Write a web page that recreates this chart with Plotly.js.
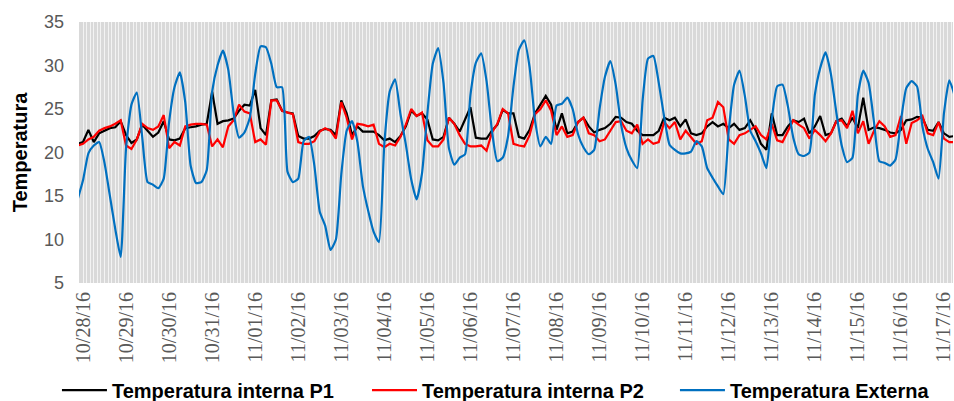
<!DOCTYPE html>
<html>
<head>
<meta charset="utf-8">
<script src="https://cdn.plot.ly/plotly-3.0.1.min.js"></script>
<style>
html,body{margin:0;padding:0;background:#fff;}
#chart{width:954px;height:401px;}
</style>
</head>
<body>
<div id="chart"></div>
<script>
// Readings every 3 hours, first reading 2016-10-27 21:00
const startTime = Date.UTC(2016, 9, 27, 21, 0, 0);
const stepHours = 3;

const seriesNames = ["Temperatura interna P1", "Temperatura interna P2", "Temperatura Externa"];

const tempP1 = [
  21.0, 21.2, 22.6, 21.2, 22.2, 22.5, 22.8, 22.9, 23.6,
  22.0, 21.1, 21.5, 23.2, 22.5, 21.8, 22.3, 23.6,
  21.5, 21.4, 21.6, 22.8, 22.9, 23.0, 23.2, 23.3,
  27.0, 23.3, 23.6, 23.7, 23.9, 24.8, 25.5, 25.4, 27.2,
  22.8, 22.0, 26.0, 26.1, 24.8, 24.6, 24.5, 21.9,
  21.6, 21.6, 21.9, 22.5, 22.7, 22.6, 22.0, 26.0,
  24.5, 22.0, 23.0, 22.4, 22.4, 22.4, 22.0, 21.4,
  21.6, 21.2, 21.9, 23.0, 24.8, 24.2, 24.5,
  23.8, 21.5, 21.4, 21.8, 24.0, 23.3, 22.4, 23.8,
  25.2, 21.7, 21.6, 21.6, 22.5, 23.2, 24.9, 24.5,
  24.5, 21.8, 21.6, 22.6, 24.5, 25.5, 26.5, 25.5,
  22.6, 24.5, 22.2, 22.4, 23.5, 24.0, 23.0, 22.3, 22.6,
  22.8, 23.3, 24.1, 24.0, 23.5, 23.3, 22.5, 22.0,
  22.0, 22.0, 22.5, 24.0, 23.7, 24.0, 23.0, 23.8,
  22.2, 22.0, 22.2, 23.0, 23.5, 23.0, 23.3, 22.8,
  23.3, 22.6, 22.8, 23.7, 22.6, 21.0, 20.3,
  24.5, 22.0, 22.0, 23.0, 23.7, 23.5, 23.9, 22.2,
  23.0, 24.2, 22.0, 22.2, 23.6, 23.9, 23.0, 24.0,
  22.8, 26.3, 22.6, 22.9, 22.8, 22.6, 22.3, 22.2,
  22.6, 23.7, 23.8, 24.1, 24.0, 22.6, 22.5, 23.5, 22.2, 21.8, 21.9
];

const tempP2 = [
  20.8, 21.0, 21.5, 21.8, 22.5, 22.8, 23.0, 23.3, 23.7,
  20.8, 20.4, 21.5, 23.3, 22.8, 22.6, 23.0, 24.3,
  20.5, 21.2, 20.8, 23.0, 23.2, 23.3, 23.3, 23.2,
  20.7, 21.5, 20.6, 23.0, 23.7, 25.5, 24.7, 24.5, 21.2,
  21.5, 20.9, 26.0, 26.0, 24.8, 24.6, 24.4, 21.2,
  21.0, 21.0, 21.3, 22.4, 22.8, 22.5, 21.6, 25.8,
  24.0, 21.5, 23.3, 23.2, 23.0, 23.2, 21.0, 20.6,
  21.0, 20.8, 21.8, 23.2, 25.0, 24.2, 24.6,
  21.4, 20.7, 20.7, 21.5, 24.0, 23.3, 22.0, 21.0,
  20.7, 20.7, 20.8, 20.2, 22.3, 23.3, 25.0, 24.5,
  21.0, 20.8, 20.7, 22.0, 24.4, 25.0, 26.0, 24.8,
  22.0, 23.0, 21.8, 22.0, 23.5, 24.0, 22.2, 22.0, 21.3,
  21.5, 22.5, 23.5, 23.6, 22.5, 22.2, 23.2, 21.0,
  21.5, 21.0, 21.2, 23.5, 22.8, 23.5, 21.5, 22.5,
  21.8, 21.0, 21.3, 23.7, 24.0, 25.8, 25.2, 21.5,
  21.0, 22.0, 22.2, 22.6, 23.0, 22.0, 21.5,
  23.3, 21.4, 21.2, 22.5, 23.7, 23.2, 22.8, 21.6,
  22.6, 22.0, 21.3, 22.2, 23.6, 23.7, 22.8, 24.8,
  22.2, 23.6, 21.0, 22.5, 23.6, 23.0, 21.8, 22.0,
  24.2, 21.0, 23.4, 23.7, 24.2, 22.2, 22.0, 23.5, 21.6, 21.2, 21.2
];

const tempExt = [
  14.6, 16.8, 19.9, 20.8, 21.2, 18.8, 15.0, 11.2, 8.0,
  20.5, 25.5, 26.9, 21.8, 16.6, 16.3, 15.9, 17.0,
  23.5, 27.5, 29.2, 25.8, 18.5, 16.5, 16.6, 18.0,
  27.0, 30.0, 31.7, 29.5, 24.5, 21.7, 22.3, 24.0, 29.0,
  32.2, 32.1, 30.2, 27.5, 27.5, 17.8, 16.6, 17.0,
  21.3, 21.8, 18.5, 13.2, 11.6, 8.8, 10.0, 17.5,
  22.5, 23.6, 21.2, 16.2, 13.3, 10.9, 9.7, 21.0,
  27.0, 28.4, 24.4, 20.9, 16.9, 14.6, 17.6,
  24.5, 30.2, 32.0, 28.0, 20.5, 18.6, 19.4, 19.8,
  26.6, 30.3, 31.4, 28.2, 22.5, 19.0, 19.4, 21.9,
  27.6, 31.8, 32.9, 29.8, 23.7, 20.7, 21.8, 21.0,
  25.4, 25.6, 26.3, 25.0, 22.1, 20.6, 19.8, 20.3, 25.0,
  28.7, 30.5, 27.8, 23.2, 20.5, 19.1, 18.2, 26.0,
  30.8, 31.1, 28.0, 24.1, 20.9, 20.3, 19.9, 19.9,
  20.1, 21.3, 20.7, 18.2, 17.1, 16.1, 15.2, 22.5,
  27.8, 29.4, 26.5, 22.5, 21.3, 19.9, 18.2,
  23.8, 27.6, 27.8, 25.3, 21.7, 19.8, 19.6, 20.0,
  26.6, 29.7, 31.5, 29.0, 24.6, 20.8, 18.9, 19.4,
  26.6, 29.4, 28.0, 23.5, 19.0, 18.8, 18.5, 19.2,
  23.6, 27.4, 28.2, 27.6, 23.0, 20.4, 18.9, 17.0, 24.5, 28.3, 26.5
];

const seriesColors = ["#000000", "#ff0000", "#0070c0"];
const legendIds = ["legend", "legend2", "legend3"];
const legendX = [0.0597, 0.3847, 0.7075];

function pad(n){ return (n < 10 ? "0" : "") + n; }
const times = tempExt.map(function(_, i){
  const d = new Date(startTime + i * stepHours * 3600000);
  return d.getUTCFullYear() + "-" + pad(d.getUTCMonth()+1) + "-" + pad(d.getUTCDate()) +
         " " + pad(d.getUTCHours()) + ":" + pad(d.getUTCMinutes());
});

const values = [tempP1, tempP2, tempExt];
const traces = values.map(function(v, i){
  return {
    x: times, y: v, type: "scatter", mode: "lines", name: seriesNames[i],
    legend: legendIds[i],
    line: {color: seriesColors[i], width: 2.2, shape: i === 2 ? "spline" : "linear", smoothing: 0.5}
  };
});

function legendSpec(i){
  return {
    orientation: "h", xref: "container", yref: "container",
    x: legendX[i], y: 0.027, xanchor: "left", yanchor: "middle",
    itemwidth: 45,
    font: {family: "Liberation Sans, Arial, sans-serif", size: 20, color: "#000000", weight: "bold"},
    bgcolor: "rgba(0,0,0,0)"
  };
}

const layout = {
  width: 954, height: 401,
  margin: {l: 79, r: 1, t: 22, b: 118},
  paper_bgcolor: "#ffffff",
  plot_bgcolor: "#d9d9d9",
  showlegend: true,
  legend: legendSpec(0),
  legend2: legendSpec(1),
  legend3: legendSpec(2),
  xaxis: {
    type: "date",
    range: ["2016-10-27 21:46", "2016-11-17 05:03"],
    tick0: "2016-10-28", dtick: 86400000,
    tickformat: "%m/%d/%y", tickangle: -90,
    ticklabeloverflow: "allow",
    ticklabelstandoff: 4,
    tickfont: {family: "Liberation Serif, Times New Roman, serif", size: 20, color: "#595959"},
    showgrid: true, gridcolor: "#f3f3f3", gridwidth: 1,
    minor: {dtick: 2 * 3600000, showgrid: true, gridcolor: "#f3f3f3", gridwidth: 1},
    ticks: "", showline: false, zeroline: false
  },
  yaxis: {
    range: [5, 35], dtick: 5, tick0: 5,
    tickfont: {family: "Liberation Sans, Arial, sans-serif", size: 18, color: "#595959"},
    showgrid: false, zeroline: false, showline: false, ticks: "",
    ticklabelstandoff: 14,
    title: {text: "Temperatura", font: {family: "Liberation Sans, Arial, sans-serif", size: 20, color: "#000000", weight: "bold"}, standoff: 10}
  }
};

Plotly.newPlot("chart", traces, layout, {displayModeBar: false, staticPlot: true});
</script>
</body>
</html>
